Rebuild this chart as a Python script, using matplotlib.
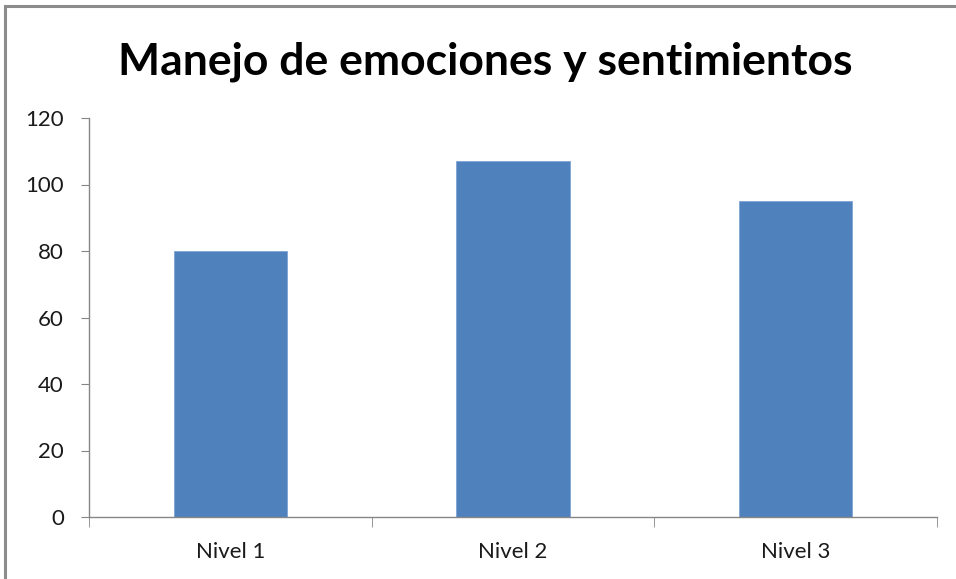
import matplotlib.pyplot as plt
from matplotlib.patches import Rectangle

categories = ["Nivel 1", "Nivel 2", "Nivel 3"]
values = [80, 107, 95]
yticks = [0, 20, 40, 60, 80, 100, 120]

plt.rcParams['font.family'] = ['Lato', 'DejaVu Sans']

fig = plt.figure(figsize=(9.56, 5.79), dpi=100)
ax = fig.add_axes([89 / 956, 1 - 517 / 579, (937 - 89) / 956, (517 - 118) / 579])

x = list(range(len(categories)))
ax.bar(x, values, width=0.4, color='#4F81BD', edgecolor='#7FA4D6', linewidth=0.6, zorder=2)

ax.set_xlim(-0.5, len(categories) - 0.5)
ax.set_ylim(0, 120)
ax.set_yticks(yticks)
ax.set_yticklabels([str(t) for t in yticks], fontsize=16)
ax.set_xticks(x)
ax.set_xticklabels(categories, fontsize=16)
ax.set_xticks([i - 0.5 for i in range(len(categories) + 1)], minor=True)

for side in ['top', 'right']:
    ax.spines[side].set_visible(False)
for side in ['left', 'bottom']:
    ax.spines[side].set_color('#868686')
    ax.spines[side].set_linewidth(1.0)

ax.tick_params(axis='y', direction='out', length=6, color='#868686', pad=12, labelcolor='#1a1a1a')
ax.tick_params(axis='x', which='major', length=0, pad=18, labelcolor='#1a1a1a')
ax.tick_params(axis='x', which='minor', direction='out', length=7, color='#868686')

fig.text(0.508, 1 - 62 / 579, "Manejo de emociones y sentimientos", ha='center', va='center',
         fontsize=32, fontweight='bold', color='black')

# outer chart border (only top and left visible in the crop)
fig.patches.append(Rectangle((5 / 956, -0.1), 1.2, 1 - 6 / 579 + 0.1, transform=fig.transFigure,
                             fill=False, edgecolor='#8C8C8C', linewidth=2.2))

fig.savefig("out.png", dpi=100, facecolor='white')
